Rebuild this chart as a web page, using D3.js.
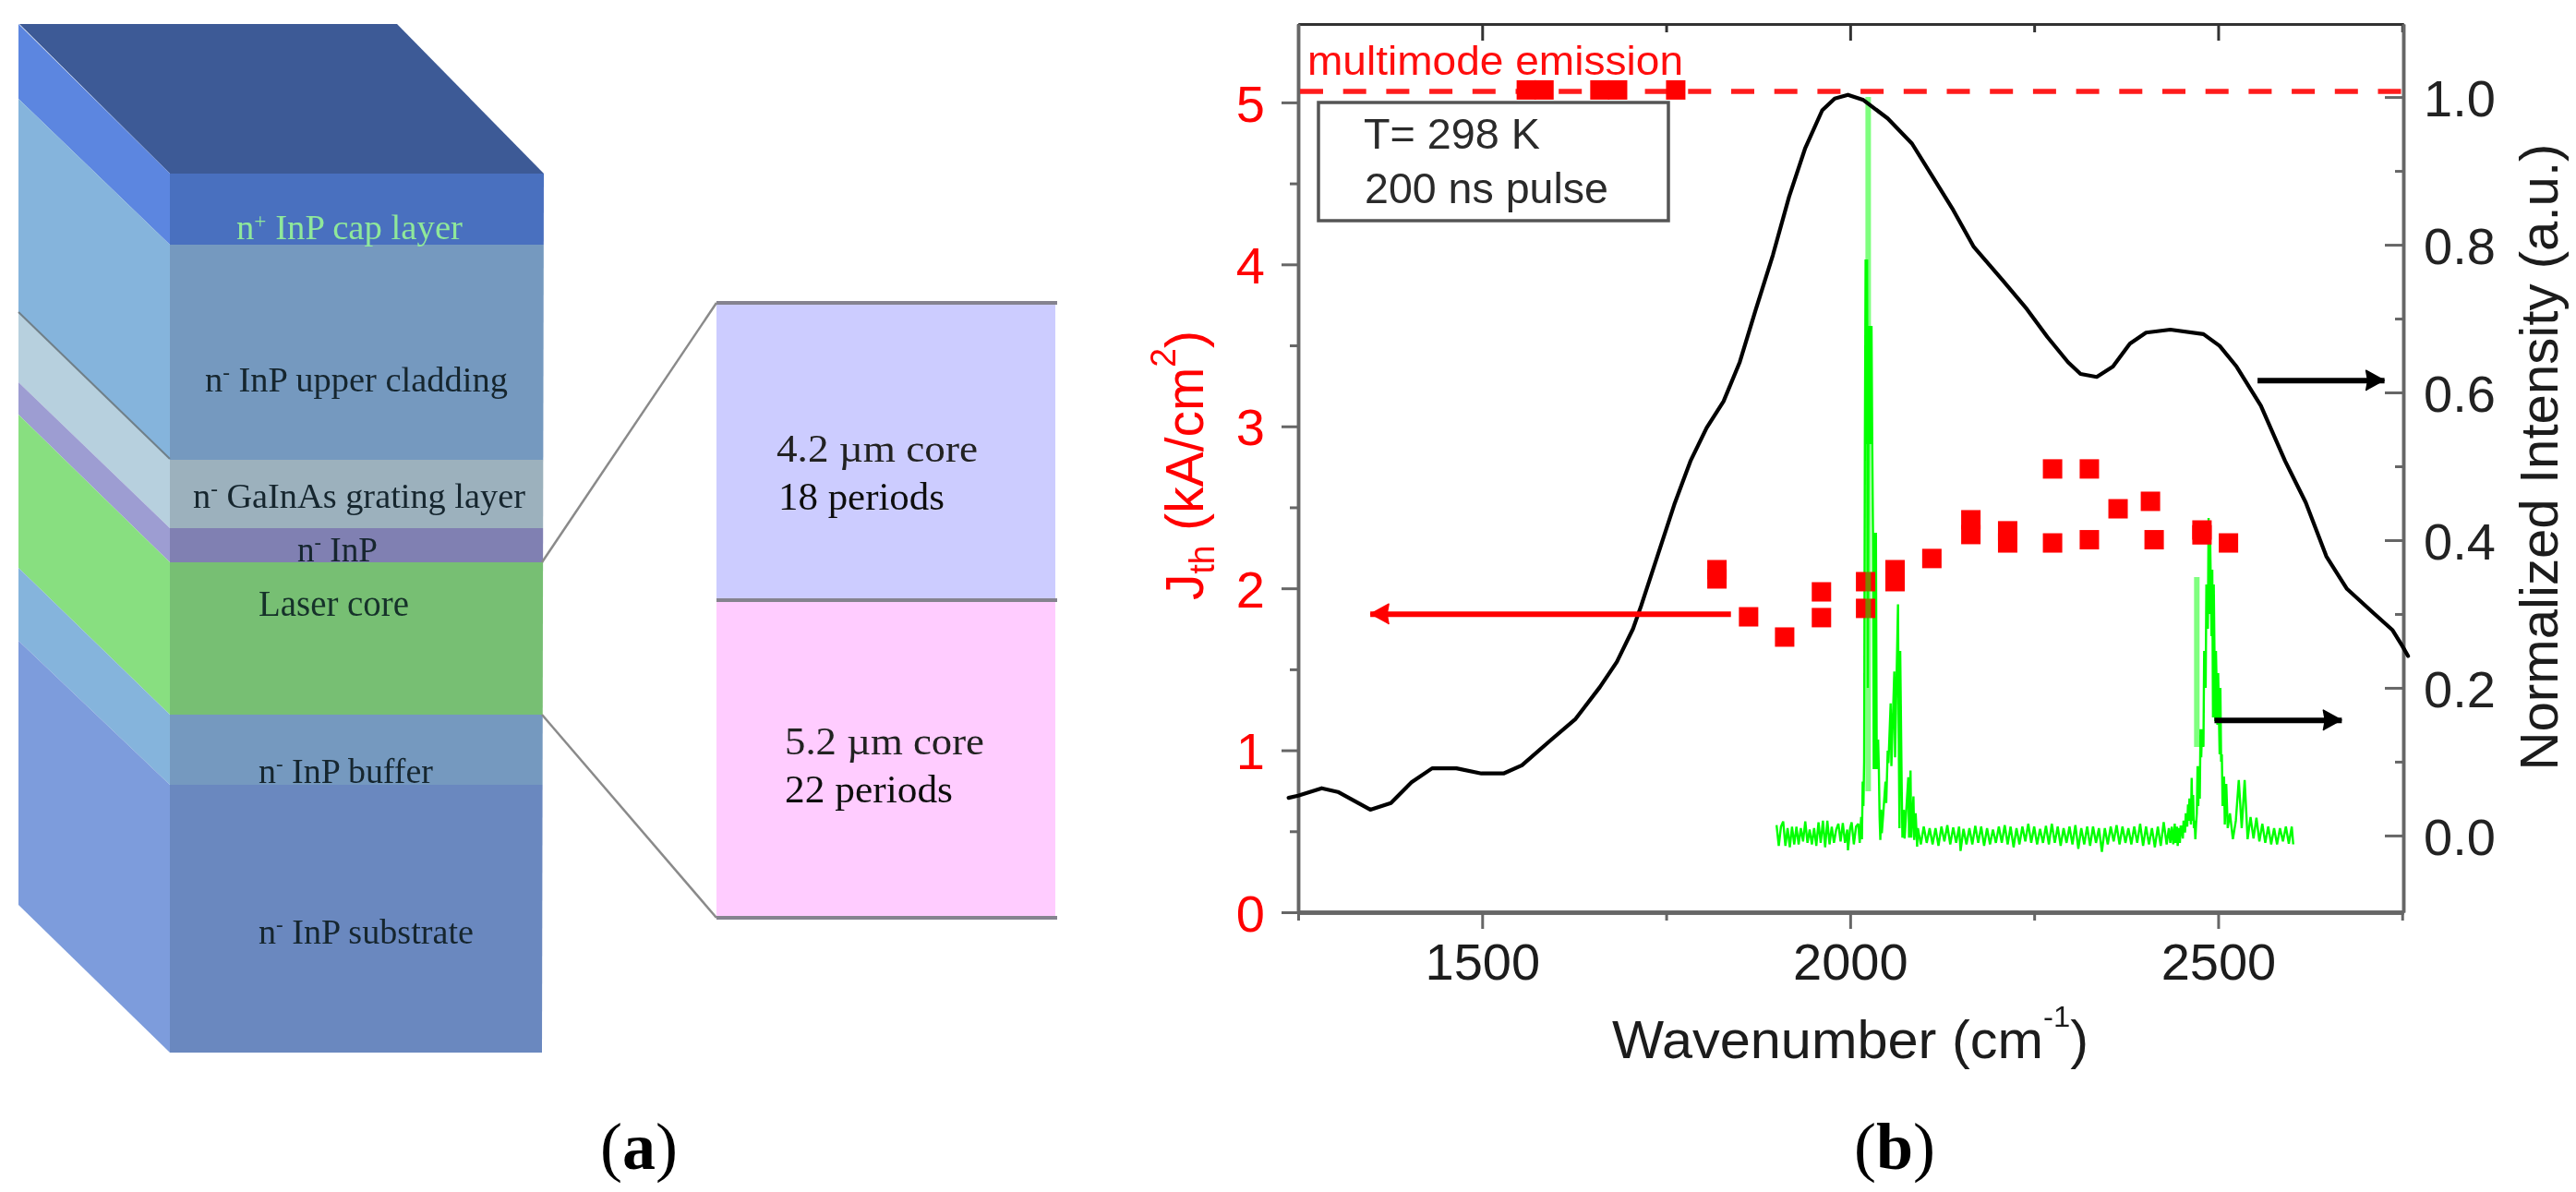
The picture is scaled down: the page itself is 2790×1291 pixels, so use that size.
<!DOCTYPE html>
<html><head><meta charset="utf-8"><style>html,body{margin:0;background:#fff}svg{display:block}</style>
<script src="https://cdn.jsdelivr.net/npm/d3@7/dist/d3.min.js"></script></head><body><svg id="c" width="2790" height="1291"></svg>
<script>
// ---------- panel (a) : layer stack ----------
const layerNames=["cap","upper","grating","spacer","core","buffer","substrate"];
const frontEdges=[188,265,498,572,609,774,850,1140];
const backEdges=[26,107,339,414,449,615,694,980];
const frontColors=["#4a6fbf","#7499bf","#9cb1bd","#8080b2","#77bf73","#7499bf","#6b88bf"];
const sideColors=["#5b86e0","#85b4dc","#b7d0de","#9d9dd2","#88df80","#85b4dc","#7d9cdc"];
const topColor="#3c5a96";
const coreColors=["#ccccff","#ffccff"];
const coreEdges=[328,650,994];
const layerLabels=[
 {t:[["n"],["+",1],[" InP cap layer"]],x:256,y:259,w:245,c:"#8fe89a",fs:37},
 {t:[["n"],["-",1],[" InP upper cladding"]],x:222,y:424,w:328,c:"#15252f",fs:38},
 {t:[["n"],["-",1],[" GaInAs grating layer"]],x:209,y:550,w:360,c:"#15252f",fs:38},
 {t:[["n"],["-",1],[" InP"]],x:322,y:608,w:87,c:"#15252f",fs:38},
 {t:[["Laser core"]],x:280,y:667,w:163,c:"#15302a",fs:39},
 {t:[["n"],["-",1],[" InP buffer"]],x:280,y:848,w:189,c:"#15252f",fs:38},
 {t:[["n"],["-",1],[" InP substrate"]],x:280,y:1022,w:233,c:"#15252f",fs:38},
 {t:[["4.2 µm core"]],x:841,y:500,w:218,c:"#222",fs:43},
 {t:[["18 periods"]],x:843,y:552,w:180,c:"#111",fs:43},
 {t:[["5.2 µm core"]],x:850,y:817,w:216,c:"#222",fs:43},
 {t:[["22 periods"]],x:850,y:869,w:182,c:"#111",fs:43}
];
// ---------- panel (b) : values ----------
const xTicksMajor=[1500,2000,2500], xTicksMinor=[1250,1750,2250,2750];
const jTicksMajor=[0,1,2,3,4,5], jTicksMinor=[0.5,1.5,2.5,3.5,4.5];
const iTicksMajor=[0,0.2,0.4,0.6,0.8,1.0], iTicksMinor=[0.1,0.3,0.5,0.7,0.9];
const pumpX=[1237,1250,1282,1304,1348,1376,1404,1432,1465,1499,1529,1554,1593,1627,1660,1683,1705,1716,1738,1761,1783,1805,1828,1850,1872,1895,1917,1939,1962,1979,1997,2018,2051,2084,2112,2140,2168,2207,2240,2268,2296,2313,2335,2357,2380,2402,2435,2480,2502,2525,2558,2591,2619,2647,2675,2709,2737,2750,2758];
const pumpY=[.051,.054,.064,.059,.035,.044,.072,.091,.091,.084,.084,.095,.129,.158,.201,.235,.280,.311,.378,.448,.507,.552,.588,.641,.713,.786,.865,.931,.982,.998,1.003,.996,.971,.937,.892,.847,.797,.752,.713,.675,.641,.625,.621,.635,.666,.681,.685,.679,.663,.635,.582,.507,.451,.378,.334,.303,.278,.257,.243];
const thresholdX=[1819,1819,1862,1911,1961,1961,2021,2021,2061,2061,2111,2164,2164,2214,2214,2275,2275,2325,2325,2364,2408,2413,2478,2478,2514];
const thresholdY=[2.115,2.058,1.824,1.699,1.978,1.819,2.041,1.876,2.115,2.041,2.184,2.423,2.332,2.355,2.28,2.28,2.737,2.30,2.737,2.491,2.537,2.30,2.36,2.33,2.28];
const multimodeX=[1560,1584,1660,1684,1763];
const multimodeY=[5.077,5.077,5.077,5.077,5.077];
const multimodeLevel=5.068;
const emissionX=[1900,1903,1906,1909,1912,1915,1918,1921,1924,1927,1930,1933,1936,1939,1942,1945,1948,1951,1954,1957,1960,1963,1966,1969,1972,1975,1978,1981,1984,1987,1990,1993,1996,1997,2000,2002,2005,2008,2011,2013,2015,
2016,2017,2018,2019,2020,2021,2022,2023,2024,2025,2026,2027,2028,2029,2030,2031,2032,2033,2034,2035,2036,2037,2038,2039,2040,2041,2042,2043,2045,2048,2049,2051,2052,2055,2056,2060,2061,2065,2066,2067,2068,2070,2071,2073,2074,2076,2079,2080,2082,2083,2086,2087,2089,2091,
2092,2096,2100,2104,2108,2112,2116,2120,2124,2128,2132,2136,2140,2144,2148,2150,2154,2158,2162,2166,2170,2174,2178,2182,2186,2190,2194,2198,2202,2206,2210,2214,2218,2222,2226,2230,2234,2238,2242,2246,2250,2254,2258,2262,2266,2270,2274,2278,2282,2286,2290,2294,2298,2302,2306,2310,2314,2318,2322,2326,2330,2334,2338,2342,2346,2350,2354,2358,2362,2366,2370,2374,2378,2382,2386,2390,2394,2398,2402,2406,2410,2414,2418,2422,2426,2430,
2433,2435,2437,2439,2441,2442,2444,2445,2447,2448,2449,2450,2452,2453,2455,2456,2458,2459,2460,2461,2463,2464,2465,2466,2467,2468,2469,2470,2471,2472,2473,2474,2475,2476,2477,2478,2480,2481,2483,2484,2486,2487,2488,2489,2491,2492,2493,2494,2496,2497,2499,2500,2502,2503,2504,2505,2506,2508,2509,2511,2513,
2516,2520,2524,2528,2532,2536,2540,2544,2548,2552,2556,2560,2564,2568,2572,2576,2580,2584,2588,2592,2596,2600,2602];
const emissionY=[.014,-.014,.012,.019,-.014,.010,-.016,.012,-.012,.012,-.012,.010,-.008,.019,-.010,.008,-.012,.010,-.014,.018,-.010,.020,-.016,.020,-.012,.012,-.010,.008,.016,-.008,.017,-.010,.008,-.020,.010,.018,-.012,.012,.016,-.010,.025,
-.005,.073,.04,.10,.53,.78,.53,.78,.2,.69,.53,.69,.53,.69,.53,.41,.09,.41,.09,.41,.13,.09,.13,.09,.025,-.006,.035,.003,.03,.073,.044,.115,.098,.179,.094,.222,.106,.313,.131,.01,.25,.069,-.003,.035,-.004,.03,.079,-.003,.088,-.003,.053,-.006,.03,-.015,
.010,-.012,.012,-.010,.010,-.012,.010,-.014,.012,-.008,.014,-.012,.011,-.010,.012,-.021,.009,-.012,.010,-.012,.013,-.010,.012,-.014,.010,-.012,.008,-.010,.012,-.010,.014,-.012,.012,-.016,.010,-.012,.012,-.008,.016,-.010,.012,-.012,.009,-.010,.013,-.012,.016,-.010,.012,-.014,.010,-.010,.012,-.012,.014,-.018,.010,-.012,.012,-.014,.012,-.010,.010,-.022,.010,-.012,.012,-.008,.014,-.012,.012,-.010,.010,-.012,.012,-.010,.016,-.014,.012,-.012,.010,-.016,.012,-.014,.018,-.012,.010,-.010,.012,-.012,.016,-.010,.012,-.014,.010,-.010,.012,
.012,-.004,.02,.004,.03,.012,.042,.02,.05,.015,.078,.02,.055,.01,.02,-.005,.015,.03,.094,.04,.094,.05,.144,.106,.144,.12,.25,.2,.34,.28,.43,.3,.41,.27,.36,.16,.34,.155,.25,.15,.22,.11,.2,.1,.11,.04,.08,.015,.07,.01,.03,-.005,.02,.075,.01,.075,-.005,.025,-.004,.024,-.008,
.016,-.010,.012,-.012,.010,-.012,.010,-.008,.012,-.011,.012,-.012,.010,-.009,.013,-.012,.014,-.008,.010,-.010,.012,-.008,.002];
const softPeakA={x:[2024.5,2024.5],y:[1.0,0.06]};
const softPeakB={x:[2471,2471],y:[0.35,0.12]};
const arrowRed={x:[1838,1348],y:[1.84,1.84]};
const arrowPump={x:[2553.5,2726],y:[.616,.616]};
const arrowEmission={x:[2495,2668],y:[.156,.156]};

const svg=d3.select("#c");
const defs=svg.append("defs");
defs.append("filter").attr("id","soft").attr("x","-2%").attr("y","-2%").attr("width","104%").attr("height","104%")
  .append("feGaussianBlur").attr("stdDeviation",0.7);
const root=svg.append("g").attr("filter","url(#soft)");
root.append("rect").attr("width",2790).attr("height",1291).attr("fill","#fff");

// ---------- (a) ----------
const A=root.append("g");
const xBack=20,xFront=184,xRightTop=589,xRightBot=587,xBackRight=430;
const xRightAt=d3.scaleLinear().domain([188,1140]).range([xRightTop,xRightBot]);
A.append("polygon").attr("points",[[21,26],[xBackRight,26],[xRightTop,188],[xFront,188]].join(" ")).attr("fill",topColor);
layerNames.forEach((n,i)=>{
  A.append("polygon").attr("points",[[xBack,backEdges[i]],[xFront,frontEdges[i]],[xFront,frontEdges[i+1]],[xBack,backEdges[i+1]]].join(" ")).attr("fill",sideColors[i]);
  A.append("polygon").attr("points",[[xFront,frontEdges[i]],[xRightAt(frontEdges[i]),frontEdges[i]],[xRightAt(frontEdges[i+1]),frontEdges[i+1]],[xFront,frontEdges[i+1]]].join(" ")).attr("fill",frontColors[i]);
});
// line across the side
A.append("line").attr("x1",xBack).attr("y1",backEdges[2]-1).attr("x2",xFront).attr("y2",frontEdges[2]-1).attr("stroke","#6f7f88").attr("stroke-width",2);
const gx0=776,gx1=1143;
coreColors.forEach((c,i)=>A.append("rect").attr("x",gx0).attr("y",coreEdges[i]).attr("width",gx1-gx0).attr("height",coreEdges[i+1]-coreEdges[i]).attr("fill",c));
coreEdges.forEach(y=>A.append("line").attr("x1",gx0).attr("x2",gx1+2).attr("y1",y).attr("y2",y).attr("stroke","#85838f").attr("stroke-width",4));
[[587,609,776,328],[587,774,776,994]].forEach(l=>A.append("line").attr("x1",l[0]).attr("y1",l[1]).attr("x2",l[2]).attr("y2",l[3]).attr("stroke","#8a8a8a").attr("stroke-width",2.5));
layerLabels.forEach(l=>{
  const t=A.append("text").attr("x",l.x).attr("y",l.y).attr("fill",l.c).attr("font-family","'Liberation Serif',serif").attr("font-size",l.fs)
    .attr("textLength",l.w).attr("lengthAdjust","spacingAndGlyphs");
  l.t.forEach(p=>{
    const s=t.append("tspan").text(p[0]);
    if(p[1]) s.attr("font-size",l.fs*0.6).attr("dy",-l.fs*0.33);
    else if(p!==l.t[0]) s.attr("dy",l.fs*0.33);
  });
});
A.append("text").attr("x",692).attr("y",1266).attr("text-anchor","middle").attr("font-family","'Liberation Serif',serif").attr("font-size",72).attr("fill","#000")
  .html('(<tspan font-weight="bold">a</tspan>)');

// ---------- (b) ----------
const B=root.append("g");
const L=1406,R=2603,T=26,Bt=988;
const x=d3.scaleLinear().domain([1250,2751.6]).range([L,R]);
const yJ=d3.scaleLinear().domain([0,5.484]).range([Bt,T]);
const yI=d3.scaleLinear().domain([-0.1039,1.0989]).range([Bt,T]);
const sans="'Liberation Sans',Arial,sans-serif";
function styleAxis(g,col,w,tc,fs){
  g.selectAll("path").attr("stroke",col).attr("stroke-width",w);
  g.selectAll("line").attr("stroke",col).attr("stroke-width",3);
  g.selectAll("text").attr("font-family",sans).attr("font-size",fs||56).attr("fill",tc||"#222");
}
const axisG=(fn)=>B.append("g").call(fn);
// bottom
let g=B.append("g").attr("transform",`translate(0,${Bt})`).call(d3.axisBottom(x).tickValues(xTicksMinor).tickSize(9).tickSizeOuter(0).tickFormat(""));styleAxis(g,"#666",4.5);
g=B.append("g").attr("transform",`translate(0,${Bt})`).call(d3.axisBottom(x).tickValues(xTicksMajor).tickSize(18).tickSizeOuter(0).tickPadding(15).tickFormat(d3.format("d")));styleAxis(g,"#666",4.5,"#1a1a1a");
// top
g=B.append("g").attr("transform",`translate(0,${T})`).call(d3.axisTop(x).tickValues(xTicksMinor).tickSize(-9).tickSizeOuter(0).tickFormat(""));styleAxis(g,"#333",3);
g=B.append("g").attr("transform",`translate(0,${T})`).call(d3.axisTop(x).tickValues(xTicksMajor).tickSize(-18).tickSizeOuter(0).tickFormat(""));styleAxis(g,"#333",3);
// left
g=B.append("g").attr("transform",`translate(${L},0)`).call(d3.axisLeft(yJ).tickValues(jTicksMinor).tickSize(9).tickSizeOuter(0).tickFormat(""));styleAxis(g,"#666",3.5);
g=B.append("g").attr("transform",`translate(${L},0)`).call(d3.axisLeft(yJ).tickValues(jTicksMajor).tickSize(18).tickSizeOuter(0).tickPadding(18).tickFormat(d3.format("d")));styleAxis(g,"#666",3.5,"#ff0000");
g.selectAll("text").attr("dy",".36em");
// right
g=B.append("g").attr("transform",`translate(${R},0)`).call(d3.axisRight(yI).tickValues(iTicksMinor).tickSize(-9).tickSizeOuter(0).tickFormat(""));styleAxis(g,"#666",3.5);
g=B.append("g").attr("transform",`translate(${R},0)`).call(d3.axisRight(yI).tickValues(iTicksMajor).tickSize(-20).tickSizeOuter(0).tickPadding(22).tickFormat(d3.format(".1f")));styleAxis(g,"#666",3.5,"#222");
g.selectAll("text").attr("dy",".36em");

// series
const lineOf=(xs,ys,sy)=>d3.line().x(d=>x(d[0])).y(d=>sy(d[1]))(xs.map((v,i)=>[v,ys[i]]));
B.append("path").attr("d",d3.line().x(d=>x(d)).y(()=>yJ(multimodeLevel))([1250,2751.6])).attr("fill","none").attr("stroke","#ff1a1a").attr("stroke-width",5.5).attr("stroke-dasharray","25 21.7").attr("stroke-dashoffset","-2");
B.append("path").attr("d",lineOf(emissionX,emissionY,yI)).attr("fill","none").attr("stroke","#00ff00").attr("stroke-width",2.4).attr("stroke-linejoin","miter").attr("stroke-miterlimit",2);
const sq=21;
const squares=(xs,ys)=>B.append("g").selectAll("rect").data(xs.map((v,i)=>[v,ys[i]])).join("rect")
  .attr("x",d=>x(d[0])-sq/2).attr("y",d=>yJ(d[1])-sq/2).attr("width",sq).attr("height",sq).attr("fill","#ff0000");
squares(thresholdX,thresholdY);
squares(multimodeX,multimodeY);
[softPeakA,softPeakB].forEach(s=>B.append("path").attr("d",lineOf(s.x,s.y,yI)).attr("fill","none").attr("stroke","#00ff00").attr("stroke-opacity",.5).attr("stroke-width",6));
B.append("path").attr("d",lineOf(pumpX,pumpY,yI)).attr("fill","none").attr("stroke","#000").attr("stroke-width",4.2).attr("stroke-linejoin","round").attr("stroke-linecap","round");

// arrows
function arrow(a,sy,col,w){
  const x1=x(a.x[1]),y1=sy(a.y[1]),dir=Math.sign(x(a.x[1])-x(a.x[0]));
  B.append("path").attr("d",lineOf(a.x,a.y,sy)).attr("fill","none").attr("stroke",col).attr("stroke-width",w);
  B.append("path").attr("d",d3.line()([[x1,y1],[x1-dir*20,y1-11],[x1-dir*18,y1],[x1-dir*20,y1+11]])).attr("fill",col).attr("stroke",col).attr("stroke-width",1.5).attr("stroke-linejoin","round");
}
arrow(arrowRed,yJ,"#ff0000",6);
arrow(arrowPump,yI,"#000",6);
arrow(arrowEmission,yI,"#000",6);

// annotation box
B.append("rect").attr("x",1428).attr("y",111).attr("width",379).attr("height",128).attr("fill","#fff").attr("stroke","#555").attr("stroke-width",3.5);
const note=(s,xx,yy,w,fs,col)=>B.append("text").attr("x",xx).attr("y",yy).attr("font-family",sans).attr("font-size",fs).attr("fill",col).attr("textLength",w).attr("lengthAdjust","spacingAndGlyphs").text(s);
note("T= 298 K",1477,161,191,46,"#2a2a2a");
note("200 ns pulse",1478,220,264,46,"#2a2a2a");
note("multimode emission",1416,81,407,45,"#ff1010");

// axis titles
const xt=B.append("text").attr("x",1746).attr("y",1146).attr("font-family",sans).attr("font-size",58).attr("fill","#1a1a1a").attr("textLength",516).attr("lengthAdjust","spacingAndGlyphs");
xt.append("tspan").text("Wavenumber (cm");
xt.append("tspan").attr("font-size",32).attr("dy",-34).text("-1");
xt.append("tspan").attr("dy",34).text(")");
const yt=B.append("text").attr("transform","translate(1303,650) rotate(-90)").attr("font-family",sans).attr("font-size",58).attr("fill","#ff0000").attr("textLength",292).attr("lengthAdjust","spacingAndGlyphs");
yt.append("tspan").text("J");
yt.append("tspan").attr("font-size",38).attr("dy",12).text("th");
yt.append("tspan").attr("dy",-12).text(" (kA/cm");
yt.append("tspan").attr("font-size",38).attr("dy",-30).text("2");
yt.append("tspan").attr("dy",30).text(")");
B.append("text").attr("transform","translate(2770,495) rotate(-90)").attr("text-anchor","middle").attr("font-family",sans).attr("font-size",58).attr("fill","#1a1a1a")
  .attr("textLength",679).attr("lengthAdjust","spacingAndGlyphs").text("Normalized Intensity (a.u.)");
B.append("text").attr("x",2052).attr("y",1266).attr("text-anchor","middle").attr("font-family","'Liberation Serif',serif").attr("font-size",72).attr("fill","#000")
  .html('(<tspan font-weight="bold">b</tspan>)');
</script></body></html>
